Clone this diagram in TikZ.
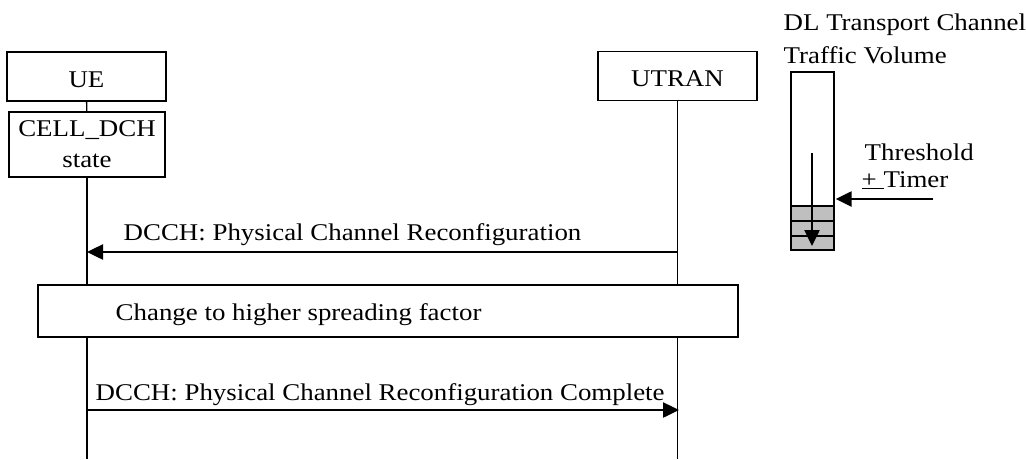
\documentclass[tikz,border=0pt]{standalone}
\usepackage{fontspec}
\setmainfont{Liberation Serif}[FakeStretch=1.12]
\usetikzlibrary{arrows.meta}

\begin{document}
\begin{tikzpicture}[x=1pt,y=-1pt,line width=1.4pt,
  every node/.style={font=\fontsize{24}{31}\selectfont},
  entity/.style={draw,fill=white,inner sep=0,minimum width=159,minimum height=49,
    text height=21pt,text depth=0pt},
  msg/.style={line width=2.5pt,-{Triangle[length=16pt,width=15pt]}},
  lbl/.style={anchor=base west,inner sep=0}]
\useasboundingbox (0,0) rectangle (1026,459);
% entities and lifelines
\node[entity] (ue) at (86.5,76.5) {UE};
\node[entity,minimum width=156,minimum height=65,align=center,text height=,text depth=] (cell) at (87,144.5) {CELL\_DCH\\state};
\node[entity] (utran) at (677.5,76) {UTRAN};
\coordinate (uebot) at (87,459);
\coordinate (utbot) at (677.5,459);
\draw (ue) -- (cell);
\draw (cell.south) -- (uebot);
\draw (utran.south) -- (utbot);

% messages
\coordinate (ue1) at (87,252);
\coordinate (ut1) at (677.5,252);
\draw[msg] (ut1) -- (ue1);
\node[lbl] (m1) at (123,240) {DCCH: Physical Channel Reconfiguration};

\node[entity,minimum width=700,minimum height=52] (change) at (388,311) {};
\node[lbl] (changetxt) at (115,320) {Change to higher spreading factor};

\coordinate (ue2) at (87,410);
\coordinate (ut2) at (679,410);
\draw[msg] (ue2) -- (ut2);
\node[lbl] (m2) at (95,400) {DCCH: Physical Channel Reconfiguration Complete};

% traffic volume buffer
\node[lbl] (dl) at (783,30) {DL Transport Channel};
\node[lbl] (tv) at (783,63) {Traffic Volume};
\node[draw,inner sep=0,minimum width=43,minimum height=178] (buf) at (812.5,161) {};
\foreach \top/\bot in {206/221,221/236,236/250}
  \draw[fill=gray!50] (791,\top) rectangle (834,\bot);
\coordinate (lvltop) at (812,153);
\coordinate (lvlbot) at (812,246);
\draw[msg] (lvltop) -- (lvlbot);
\coordinate (thr) at (933,199);
\draw[msg] (thr) -- ([xshift=1pt]thr -| buf.east);
\node[lbl] (thrtxt) at (864,160) {Threshold};
\node[lbl] (timer) at (861,187) {\underline{+\ }Timer};
\end{tikzpicture}
\end{document}
